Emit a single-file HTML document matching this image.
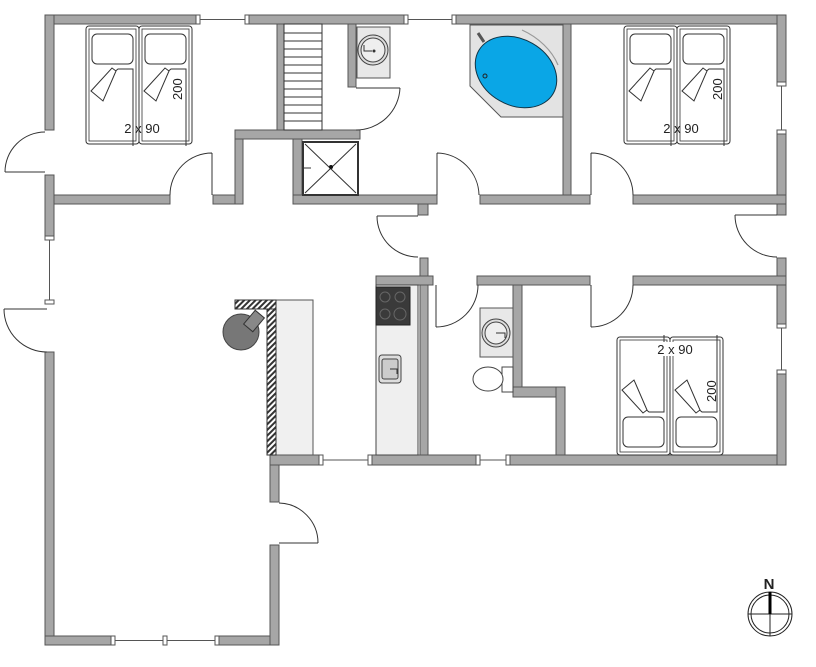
<!DOCTYPE html>
<html><head><meta charset="utf-8"><style>
html,body{margin:0;padding:0;background:#fff;width:816px;height:667px;overflow:hidden}
svg{display:block}
text{font-family:"Liberation Sans",sans-serif;fill:#222}
</style></head><body>
<svg width="816" height="667" viewBox="0 0 816 667" xmlns="http://www.w3.org/2000/svg">
<defs>
<pattern id="hat" width="4" height="4" patternUnits="userSpaceOnUse" patternTransform="rotate(45)">
<rect width="4" height="4" fill="#fff"/><rect width="2" height="4" fill="#333"/></pattern>
<g id="bed">
<rect x="0" y="0" width="53" height="118" rx="3" fill="#fff" stroke="#333" stroke-width="1"/>
<rect x="3" y="3" width="47" height="112" fill="none" stroke="#333" stroke-width="0.8"/>
<rect x="6" y="8" width="41" height="30" rx="5" fill="#fff" stroke="#333"/>
<path d="M5 65 L32 43 L47 43 L47 120" fill="none" stroke="#333"/>
<path d="M5 65 L17 75 L30 45 L26 42 Z" fill="#fff" stroke="#333"/>
</g>
</defs>
<g fill="#a6a6a6" stroke="#555" stroke-width="1">
<rect x="45" y="15" width="152" height="9"/>
<rect x="248" y="15" width="157" height="9"/>
<rect x="455" y="15" width="331" height="9"/>
<rect x="45" y="15" width="9" height="115"/>
<rect x="45" y="175" width="9" height="62"/>
<rect x="45" y="352" width="9" height="293"/>
<rect x="45" y="636" width="67" height="9"/>
<rect x="218" y="636" width="61" height="9"/>
<rect x="270" y="545" width="9" height="100"/>
<rect x="270" y="455" width="9" height="47"/>
<rect x="270" y="455" width="50" height="10"/>
<rect x="370" y="455" width="107" height="10"/>
<rect x="508" y="455" width="278" height="10"/>
<rect x="777" y="15" width="9" height="68"/>
<rect x="777" y="133" width="9" height="82"/>
<rect x="777" y="258" width="9" height="67"/>
<rect x="777" y="373" width="9" height="92"/>
<rect x="54" y="195" width="116" height="9"/>
<rect x="213" y="195" width="30" height="9"/>
<rect x="235" y="130" width="8" height="74"/>
<rect x="235" y="130" width="125" height="9"/>
<rect x="277" y="24" width="7" height="106"/>
<rect x="348" y="24" width="8" height="63"/>
<rect x="293" y="139" width="9" height="65"/>
<rect x="293" y="195" width="144" height="9"/>
<rect x="480" y="195" width="110" height="9"/>
<rect x="633" y="195" width="153" height="9"/>
<rect x="563" y="24" width="8" height="171"/>
<rect x="418" y="204" width="10" height="11"/>
<rect x="420" y="258" width="8" height="197"/>
<rect x="376" y="276" width="57" height="9"/>
<rect x="477" y="276" width="113" height="9"/>
<rect x="633" y="276" width="153" height="9"/>
<rect x="513" y="285" width="9" height="112"/>
<rect x="513" y="387" width="52" height="10"/>
<rect x="556" y="387" width="9" height="68"/>
</g>
<g stroke="#555" stroke-width="1" fill="none">
<path d="M197 19.5H248M405 19.5H455M49.5 237V303M112 640.5H218M320 460H370M477 460H508M781.5 83V133M781.5 325V373"/>
</g>
<g fill="#fff" stroke="#555" stroke-width="1">
<rect x="196" y="15" width="4" height="9"/><rect x="245" y="15" width="4" height="9"/>
<rect x="404" y="15" width="4" height="9"/><rect x="452" y="15" width="4" height="9"/>
<rect x="45" y="236" width="9" height="4"/><rect x="45" y="300" width="9" height="4"/>
<rect x="111" y="636" width="4" height="9"/><rect x="163" y="636" width="4" height="9"/><rect x="215" y="636" width="4" height="9"/>
<rect x="319" y="455" width="4" height="10"/><rect x="368" y="455" width="4" height="10"/>
<rect x="476" y="455" width="4" height="10"/><rect x="506" y="455" width="4" height="10"/>
<rect x="777" y="82" width="9" height="4"/><rect x="777" y="130" width="9" height="4"/>
<rect x="777" y="324" width="9" height="4"/><rect x="777" y="370" width="9" height="4"/>
</g>
<g fill="none" stroke="#333" stroke-width="1">
<path d="M45 172H5M5 172A40 40 0 0 1 45 132"/>
<path d="M212 195V153M212 153A42 42 0 0 0 170 195"/>
<path d="M356 88H400M400 88A44 44 0 0 1 356 130"/>
<path d="M437 195V153M437 153A43 43 0 0 1 479 195"/>
<path d="M591 195V153M591 153A42 42 0 0 1 633 195"/>
<path d="M418 216H377M377 216A41 41 0 0 0 418 257"/>
<path d="M777 215H735M735 215A42 42 0 0 0 777 257"/>
<path d="M436 285V327M436 327A42 42 0 0 0 478 285"/>
<path d="M591 285V327M591 327A42 42 0 0 0 633 285"/>
<path d="M47 309H4M4 309A43 43 0 0 0 47 352"/>
<path d="M279 543H318M318 543A40 40 0 0 0 279 503"/>
</g>
<rect x="284" y="24" width="38" height="106" fill="#fff" stroke="#333"/>
<g stroke="#333" stroke-width="1">
<path d="M284 33H322M284 41H322M284 49H322M284 57H322M284 65H322M284 73H322M284 81H322M284 89H322M284 97H322M284 105H322M284 113H322M284 121H322"/>
</g>
<rect x="357" y="27" width="33" height="51" fill="#e8e8e8" stroke="#555"/>
<circle cx="373" cy="50" r="15" fill="#ddd" stroke="#444"/>
<circle cx="373" cy="50" r="12" fill="#eee" stroke="#444"/>
<path d="M364 45V51H372" stroke="#333" fill="none"/><circle cx="374" cy="51" r="1.5" fill="#333"/>
<rect x="303" y="142" width="55" height="53" fill="#fff" stroke="#333" stroke-width="2"/>
<path d="M305 144L356 193M356 144L305 193" stroke="#333"/>
<circle cx="331" cy="167" r="2" fill="#111"/>
<path d="M303 168h8" stroke="#333"/>
<path d="M470 25H563V117H501L470 86Z" fill="#e3e3e3" stroke="#555"/>
<ellipse cx="516" cy="72" rx="43" ry="33" transform="rotate(30 516 72)" fill="#0aa6e6" stroke="#134" stroke-width="1"/>
<path d="M522 30A60 45 25 0 1 558 65" stroke="#999" fill="none" stroke-width="1.2"/>
<circle cx="485" cy="76" r="2" fill="none" stroke="#222"/>
<path d="M478 33L484 42" stroke="#555" stroke-width="3"/>
<use href="#bed" x="86" y="26"/><use href="#bed" x="139" y="26"/>
<text x="142" y="133" font-size="13" text-anchor="middle">2 x 90</text>
<text x="0" y="0" font-size="13" transform="translate(182,100) rotate(-90)">200</text>
<use href="#bed" x="624" y="26"/><use href="#bed" x="677" y="26"/>
<text x="681" y="133" font-size="13" text-anchor="middle">2 x 90</text>
<text x="0" y="0" font-size="13" transform="translate(722,100) rotate(-90)">200</text>
<g transform="translate(0,790) scale(1,-1)">
<use href="#bed" x="617" y="335"/><use href="#bed" x="670" y="335"/>
</g>
<rect x="647" y="342" width="50" height="14" fill="#fff"/>
<text x="675" y="354" font-size="13" text-anchor="middle">2 x 90</text>
<text x="0" y="0" font-size="13" transform="translate(716,402) rotate(-90)">200</text>
<rect x="276" y="300" width="37" height="155" fill="#f0f0f0" stroke="#555"/>
<rect x="267" y="300" width="9" height="155" fill="url(#hat)" stroke="#333"/>
<rect x="235" y="300" width="41" height="9" fill="url(#hat)" stroke="#333"/>
<circle cx="241" cy="332" r="18" fill="#777" stroke="#444"/>
<rect x="248" y="312" width="12" height="18" fill="#888" stroke="#333" transform="rotate(40 254 321)"/>
<rect x="376" y="285" width="42" height="170" fill="#efefef" stroke="#444"/>
<rect x="376" y="287" width="34" height="38" fill="#3a3a3a" stroke="#222"/>
<circle cx="385" cy="297" r="5" fill="none" stroke="#666"/><circle cx="400" cy="297" r="5" fill="none" stroke="#666"/>
<circle cx="385" cy="314" r="5" fill="none" stroke="#666"/><circle cx="400" cy="314" r="6" fill="none" stroke="#666"/>
<rect x="379" y="355" width="22" height="28" rx="3" fill="#ddd" stroke="#444"/>
<rect x="382" y="359" width="16" height="20" rx="2" fill="#ccc" stroke="#444"/>
<path d="M390 369H397V374" stroke="#333" fill="none"/>
<rect x="480" y="308" width="33" height="49" fill="#e8e8e8" stroke="#555"/>
<circle cx="496" cy="333" r="14" fill="#ddd" stroke="#444"/>
<circle cx="496" cy="333" r="11" fill="#eee" stroke="#444"/>
<path d="M496 333H505V338" stroke="#333" fill="none"/>
<rect x="502" y="367" width="11" height="25" fill="#fff" stroke="#444"/>
<ellipse cx="488" cy="379" rx="15" ry="12" fill="#fff" stroke="#444"/>
<text x="769" y="589" font-size="15" font-weight="bold" text-anchor="middle">N</text>
<ellipse cx="770" cy="614" rx="22" ry="22" fill="none" stroke="#222"/>
<ellipse cx="770" cy="614" rx="19" ry="19" fill="none" stroke="#222"/>
<path d="M770 592V636M748 614H792" stroke="#222"/>
<path d="M770 592V614" stroke="#000" stroke-width="3"/>
</svg>
</body></html>
